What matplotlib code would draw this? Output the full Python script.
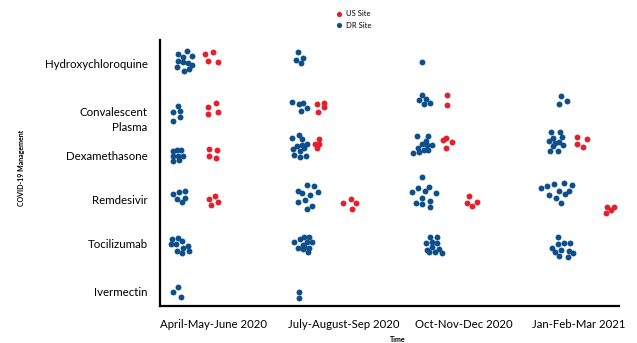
import matplotlib
matplotlib.use('Agg')
import matplotlib.pyplot as plt

plt.rcParams['font.family'] = ['Lato', 'DejaVu Sans']

quarters = ['April-May-June 2020', 'July-August-Sep 2020', 'Oct-Nov-Dec 2020', 'Jan-Feb-Mar 2021']
drugs = ['Hydroxychloroquine', 'Convalescent\nPlasma', 'Dexamethasone', 'Remdesivir', 'Tocilizumab', 'Ivermectin']

# each dot: (drug index, x jitter, y jitter)
apr_dr = [(0, -12, -9), (0, -3, -12), (0, -7, -6), (0, 2, -7), (0, -12, -2), (0, -7, -1),
          (0, -2, 0), (0, 2, 2), (0, -13, 4), (0, -6, 8), (0, -1, 6),
          (1, -12, -3), (1, -17, 3), (1, -10, 2), (1, -10, 8), (1, -17, 12),
          (2, -17, -4), (2, -13, -5), (2, -9, -5), (2, -17, 1), (2, -12, 1), (2, -7, 1),
          (2, -17, 6), (2, -11, 5),
          (3, -17, -6), (3, -11, -8), (3, -5, -9), (3, -13, -1), (3, -5, -2), (3, -8, 2),
          (4, -18, -7), (4, -12, -8), (4, -8, -5), (4, -19, -2), (4, -14, -2), (4, -7, 2),
          (4, -2, 0), (4, -13, 5), (4, -8, 7), (4, -1, 5),
          (5, -12, -5), (5, -17, 0), (5, -9, 5)]
apr_us = [(0, 15, -9), (0, 23, -11), (0, 18, -2), (0, 28, -1),
          (1, 18, -2), (1, 26, -6), (1, 28, 3), (1, 18, 5),
          (2, 19, -6), (2, 27, -5), (2, 19, 1), (2, 26, 3),
          (3, 19, -1), (3, 25, -4), (3, 28, 2), (3, 21, 5)]

jul_dr = [(0, -14, -11), (0, -16, -3), (0, -9, -5), (0, -11, 0),
          (1, -20, -7), (1, -13, -5), (1, -9, -6), (1, -11, 2), (1, -5, -1),
          (2, -13, -20), (2, -20, -17), (2, -10, -16), (2, -5, -11), (2, -15, -9), (2, -10, -10),
          (2, -19, -6), (2, -12, -4), (2, -8, -7), (2, -18, 0), (2, -12, 2), (2, -6, 1),
          (3, -5, -15), (3, 2, -14), (3, -14, -9), (3, -10, -7), (3, -2, -5), (3, 6, -8),
          (3, -14, 2), (3, -7, 0), (3, 0, 6), (3, -5, 9),
          (4, -18, -4), (4, -12, -7), (4, -8, -9), (4, -3, -9), (4, -14, 2), (4, -9, -1),
          (4, -5, -4), (4, 0, -4), (4, -9, 3), (4, -3, 2), (4, -4, 6), (4, -8, 1),
          (5, -13, 0), (5, -13, 6)]
jul_us = [(1, 5, -5), (1, 12, -6), (1, 12, -2), (1, 6, 3),
          (2, 7, -16), (2, 3, -11), (2, 7, -11), (2, 5, -7),
          (3, 31, 3), (3, 39, -1), (3, 44, 3), (3, 40, 9)]

oct_dr = [(0, -12, -1),
          (1, -12, -14), (1, -15, -9), (1, -8, -10), (1, -10, -5), (1, -4, -6),
          (2, -17, -19), (2, -6, -19), (2, -8, -14), (2, -12, -11), (2, -2, -10), (2, -16, -7),
          (2, -21, -2), (2, -15, -3), (2, -10, -5), (2, -6, -5), (2, -7, -10),
          (3, -12, -23), (3, -22, -8), (3, -16, -12), (3, -9, -9), (3, -5, -13), (3, 2, -7),
          (3, -12, -2), (3, -18, 3), (3, -12, 4), (3, -4, 1), (3, -4, 7),
          (4, -4, -9), (4, 3, -9), (4, -8, -3), (4, -2, -4), (4, 3, -3), (4, -7, 4),
          (4, -2, 1), (4, 5, 3), (4, -5, 6), (4, 1, 6), (4, 8, 7)]
oct_us = [(1, 13, -14), (1, 13, -4),
          (2, 9, -15), (2, 12, -17), (2, 18, -13), (2, 12, -7),
          (3, 35, -4), (3, 43, 2), (3, 33, 3), (3, 38, 6)]

jan_dr = [(1, 5, -13), (1, 11, -8), (1, 3, -5),
          (2, -5, -23), (2, 4, -23), (2, -3, -17), (2, 6, -18), (2, -7, -14), (2, 3, -13),
          (2, -1, -12), (2, 7, -10), (2, -3, -9), (2, -6, -4), (2, 2, -4),
          (3, -15, -12), (3, -9, -14), (3, -2, -16), (3, 8, -17), (3, 16, -15), (3, -7, -5),
          (3, 3, -9), (3, 9, -6), (3, 13, -9), (3, 0, -2), (3, 5, 3),
          (4, 2, -9), (4, -4, 2), (4, 2, -2), (4, 8, -3), (4, 14, -3), (4, 5, 4),
          (4, -1, 6), (4, 13, 5), (4, 17, 7), (4, 3, 10), (4, 12, 11)]
jan_us = [(2, 21, -18), (2, 31, -16), (2, 21, -11), (2, 27, -8),
          (3, 51, 7), (3, 55, 10), (3, 58, 7), (3, 50, 13)]

# layout: cluster anchors and label positions
quarter_x = [190, 312, 434, 556]
drug_y = [63, 109, 155, 200, 246, 292]
xlabel_pos = [213, 344, 464, 579]
ylabel_pos = [63, 117, 155, 199, 244, 292]

BLUE = '#0d4f8b'
RED = '#e5202e'

fig = plt.figure(figsize=(6.37, 3.43), dpi=100)
ax = fig.add_axes([160 / 637, 37 / 343, 459 / 637, 266 / 343])

dr_site = [apr_dr, jul_dr, oct_dr, jan_dr]
us_site = [apr_us, jul_us, oct_us, jan_us]
for q in range(len(quarters)):
    for pts, col in ((dr_site[q], BLUE), (us_site[q], RED)):
        xs = [quarter_x[q] + dx for d, dx, dy in pts]
        ys = [drug_y[d] + dy for d, dx, dy in pts]
        ax.scatter(xs, ys, s=18, color=col, linewidths=0, zorder=3)

ax.set_xlim(160, 619)
ax.set_ylim(306, 40)
ax.set_xticks(xlabel_pos)
ax.set_xticklabels(quarters, fontsize=8.2)
ax.set_yticks(ylabel_pos)
ax.set_yticklabels(drugs, fontsize=8.3, linespacing=1.4)
ax.tick_params(length=0, pad=9)
for lbl in ax.get_yticklabels():
    lbl.set_horizontalalignment('right')
    lbl.set_multialignment('right')

for s in ['top', 'right']:
    ax.spines[s].set_visible(False)
for s in ['left', 'bottom']:
    ax.spines[s].set_linewidth(1.6)
    ax.spines[s].set_color('black')

fig.text(398 / 637, 1 - 339 / 343, 'Time', fontsize=5, fontweight='bold', ha='center', va='center')
fig.text(22 / 637, 1 - 168 / 343, 'COVID-19 Management', fontsize=5, fontweight='bold',
         rotation=90, ha='center', va='center')

# legend drawn on an overlay axes
lax = fig.add_axes([0, 0, 1, 1], facecolor='none')
lax.set_xlim(0, 637)
lax.set_ylim(343, 0)
lax.axis('off')
lax.scatter([339], [14], s=14, color=RED, linewidths=0)
lax.scatter([339], [25], s=14, color=BLUE, linewidths=0)
lax.text(346, 14, 'US Site', fontsize=5.5, va='center')
lax.text(346, 25, 'DR Site', fontsize=5.5, va='center')

fig.savefig('out.png', dpi=100)
